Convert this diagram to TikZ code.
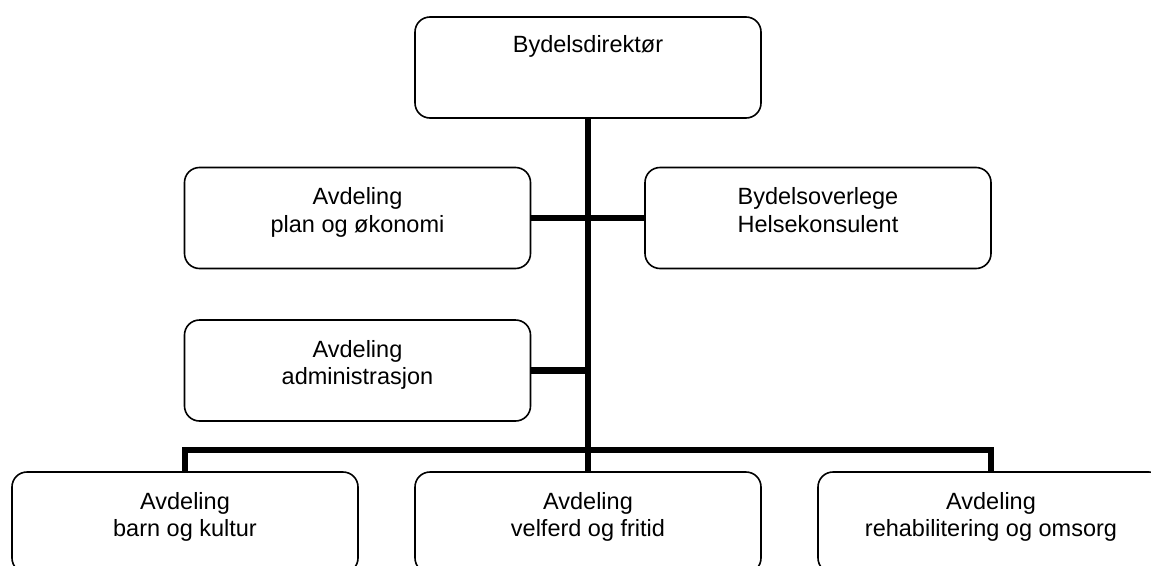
\documentclass[tikz,border=0pt]{standalone}
\usepackage{fontspec}
\setmainfont{Liberation Sans}
\begin{document}
\begin{tikzpicture}[x=1pt,y=-1pt,
  orgbox/.style={draw=black, line width=1.6pt, rounded corners=15pt,
    minimum width=346pt, minimum height=101pt, inner sep=0pt, fill=white},
  boxtext/.style={anchor=north, inner sep=0pt, align=center,
    font=\fontsize{23.5}{27.5}\selectfont},
  conn/.style={draw=black, line width=6.5pt}
]
\useasboundingbox (0,0) rectangle (1151,565);
% boxes
\node[orgbox] (top)    at (588,67.5) {};
\node[orgbox] (plan)   at (357.5,218) {};
\node[orgbox] (helse)  at (818,218) {};
\node[orgbox] (admin)  at (357.5,370.5) {};
\node[orgbox] (bleft)  at (185,522.5) {};
\node[orgbox] (bmid)   at (588,522.5) {};
\node[orgbox] (bright) at (991,522.5) {};
% texts
\node[boxtext] (ttop)   at ([yshift=-17pt]top.north)    {\strut Bydelsdirektør};
\node[boxtext] (tplan)  at ([yshift=-18.5pt]plan.north)   {\strut Avdeling\\plan og økonomi};
\node[boxtext] (thelse) at ([yshift=-18.5pt]helse.north)  {\strut Bydelsoverlege\\Helsekonsulent};
\node[boxtext] (tadmin) at ([yshift=-18.5pt]admin.north)  {\strut Avdeling\\administrasjon};
\node[boxtext] (tbleft) at ([yshift=-18.5pt]bleft.north)  {\strut Avdeling\\barn og kultur};
\node[boxtext] (tbmid)  at ([yshift=-18.5pt]bmid.north)   {\strut Avdeling\\velferd og fritid};
\node[boxtext] (tbright) at ([yshift=-18.5pt]bright.north) {\strut Avdeling\\rehabilitering og omsorg};
% connectors
\coordinate (bar) at (588,450);
\draw[conn] (top.south) -- (bmid.north);
\draw[conn] (plan.east) -- (helse.west);
\draw[conn] (admin.east) -- (admin.east -| top.south);
\draw[conn] (bleft.north) |- (bar) -| (bright.north);
\end{tikzpicture}
\end{document}
